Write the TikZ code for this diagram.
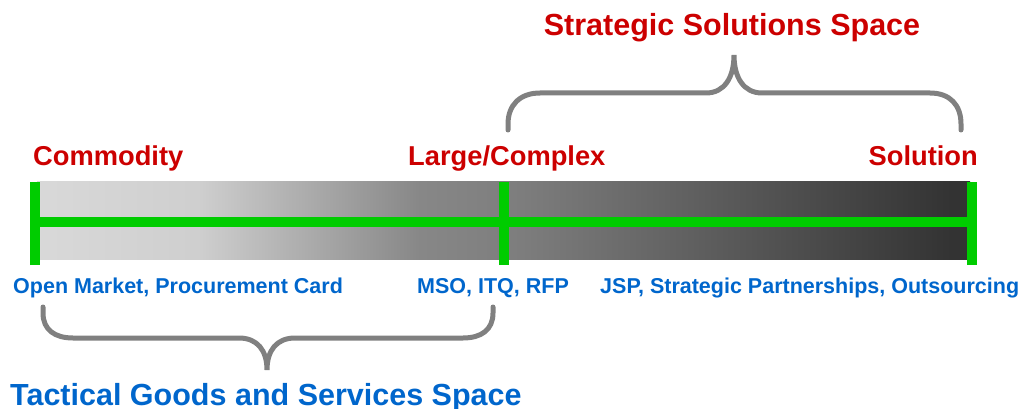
\documentclass[tikz,border=0pt]{standalone}
\usepackage{fontspec}
\setmainfont{Liberation Sans}
\usetikzlibrary{positioning}

\definecolor{lblred}{HTML}{CC0000}
\definecolor{lblblue}{HTML}{0066CC}
\definecolor{bargreen}{HTML}{00CC00}
\definecolor{bracegrey}{HTML}{808080}

\pgfdeclarehorizontalshading{barshade}{100bp}{%
  color(0bp)=(black!15); color(25bp)=(black!15);
  color(33.7bp)=(black!19); color(45.5bp)=(black!47);
  color(51bp)=(black!51); color(74bp)=(black!80);
  color(75bp)=(black!80); color(100bp)=(black!80)}

\tikzset{
  endlbl/.style={text=lblred, font=\fontsize{27.3}{30}\selectfont\bfseries, inner sep=0pt},
  toolbl/.style={text=lblblue, font=\fontsize{21.5}{24}\selectfont\bfseries, inner sep=0pt},
  spacelbl/.style={font=\fontsize{30.5}{34}\selectfont\bfseries, inner sep=0pt},
  tick/.style={draw=bargreen, line width=10pt},
  brace/.style={draw=bracegrey, line width=5pt, line cap=round},
}

\begin{document}
\begin{tikzpicture}[x=1pt, y=-1pt]
  \useasboundingbox (0,0) rectangle (1020,409);

  % the bar
  \shade[shading=barshade] (37,181) rectangle (970,259);
  \coordinate (left) at (35,222);
  \coordinate (mid) at (504,222);
  \coordinate (right) at (972,222);
  \draw[tick] (left) -- (right);
  \foreach \p in {left, mid, right}
    \draw[tick] ([yshift=-43pt]\p) -- ([yshift=40pt]\p);

  % labels above and below
  \node[endlbl, anchor=base west] (commodity) at (33,165) {Commodity};
  \node[endlbl, anchor=base west] (large) at (408,165) {Large/Complex};
  \node[endlbl, anchor=base east] (solution) at (978,165) {Solution};
  \node[toolbl, anchor=base west] (open) at (13,293) {Open Market, Procurement Card};
  \node[toolbl, anchor=base west] (mso) at (417,293) {MSO, ITQ, RFP};
  \node[toolbl, anchor=base west] (jsp) at (600,293) {JSP, Strategic Partnerships, Outsourcing};

  % braces
  \draw[brace] (508,130) -- (508,124) .. controls (508,105) and (520,93) .. (540,93)
    -- (706,93) .. controls (724,93) and (734,78) .. (734,55)
    .. controls (734,78) and (744,93) .. (762,93)
    -- (930,93) .. controls (950,93) and (961,105) .. (961,124) -- (961,130);
  \draw[brace] (43,307) -- (43,313) .. controls (43,330) and (55,338) .. (73,338)
    -- (239,338) .. controls (257,338) and (267,350) .. (267,370)
    .. controls (267,350) and (277,338) .. (295,338)
    -- (463,338) .. controls (481,338) and (493,330) .. (493,313) -- (493,307);

  \node[spacelbl, text=lblred, anchor=base] (strategic) at (732,36) {Strategic Solutions Space};
  \node[spacelbl, text=lblblue, anchor=base west] (tactical) at (10,405) {Tactical Goods and Services Space};
\end{tikzpicture}
\end{document}
